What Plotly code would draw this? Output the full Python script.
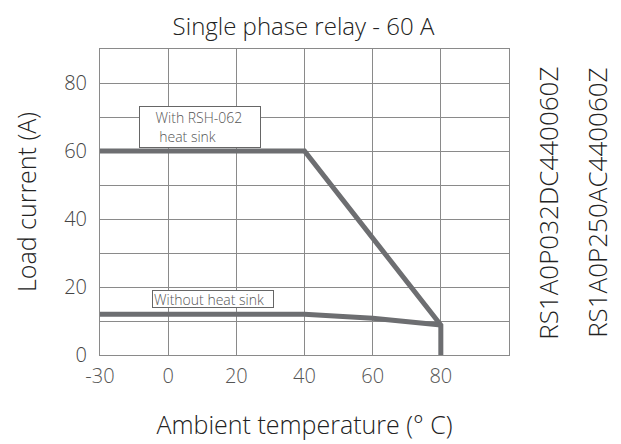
import plotly.graph_objects as go

# Data
x_labels = ["-30", "0", "20", "40", "60", "80"]
with_sink_x = [0, 3, 5, 5]
with_sink_y = [60, 60, 8.8, 0]
without_sink_x = [0, 3, 4, 5]
without_sink_y = [12, 12, 10.8, 8.8]
y_tick_vals = list(range(0, 100, 10))
y_tick_text = [str(v) if v % 20 == 0 and v <= 80 else "" for v in y_tick_vals]
models = ["RS1A0P032DC440060Z", "RS1A0P250AC440060Z"]

FONT = "Open Sans"
W = 300
LINE = "#6d6e71"
GRID = "#8a8a8a"

fig = go.Figure()
fig.add_trace(go.Scatter(x=with_sink_x, y=with_sink_y, mode="lines",
                         line=dict(color=LINE, width=5), showlegend=False, hoverinfo="skip"))
fig.add_trace(go.Scatter(x=without_sink_x, y=without_sink_y, mode="lines",
                         line=dict(color=LINE, width=5), showlegend=False, hoverinfo="skip"))

fig.update_layout(
    width=613, height=436,
    margin=dict(l=92, r=112, t=41, b=89, autoexpand=False),
    paper_bgcolor="white", plot_bgcolor="white",
    title=dict(text="Single phase relay - 60 A", x=0.482, xanchor="center",
               y=0.958, yanchor="middle",
               font=dict(family=FONT, size=24, color="#222222", weight=W)),
    font=dict(family=FONT, weight=W),
)
fig.update_xaxes(range=[0, 6], tickvals=list(range(7)), ticktext=x_labels + [""],
                 automargin=False,
                 showgrid=True, gridcolor=GRID, gridwidth=1,
                 showline=True, linecolor=GRID, linewidth=1, mirror=True,
                 zeroline=False, ticks="", ticklabelstandoff=3,
                 tickfont=dict(family=FONT, size=20, color="#555555", weight=W),
                 title=dict(text="Ambient temperature (° C)", standoff=28,
                            font=dict(family=FONT, size=25, color="#222222", weight=W)))
fig.update_yaxes(range=[0, 90], tickvals=y_tick_vals, ticktext=y_tick_text,
                 automargin=False,
                 showgrid=True, gridcolor=GRID, gridwidth=1,
                 showline=True, linecolor=GRID, linewidth=1, mirror=True,
                 zeroline=False, ticks="", ticklabelstandoff=8,
                 tickfont=dict(family=FONT, size=20, color="#444444", weight=W),
                 title=dict(text="Load current (A)", standoff=20,
                            font=dict(family=FONT, size=25, color="#222222", weight=W)))

fig.add_annotation(x=1.46, y=67.1, xref="x", yref="y",
                   text="    With RSH-062<br>     heat sink", showarrow=False, align="left",
                   width=118, height=38, borderpad=1, borderwidth=1, bordercolor="#666666",
                   bgcolor="white", font=dict(family=FONT, size=14, color="#555555", weight=W))
fig.add_annotation(x=1.655, y=16.6, xref="x", yref="y",
                   text="Without heat sink", showarrow=False, align="left",
                   width=118, height=14, borderpad=1, borderwidth=1, bordercolor="#666666",
                   bgcolor="white", font=dict(family=FONT, size=14, color="#555555", weight=W))

for xp, m in zip([1.095, 1.215], models):
    fig.add_annotation(x=xp, y=0.497, xref="paper", yref="paper", text=m,
                       textangle=-90, showarrow=False, xanchor="center", yanchor="middle",
                       font=dict(family=FONT, size=26, color="#222222", weight=W))

fig.write_html("out.html")
